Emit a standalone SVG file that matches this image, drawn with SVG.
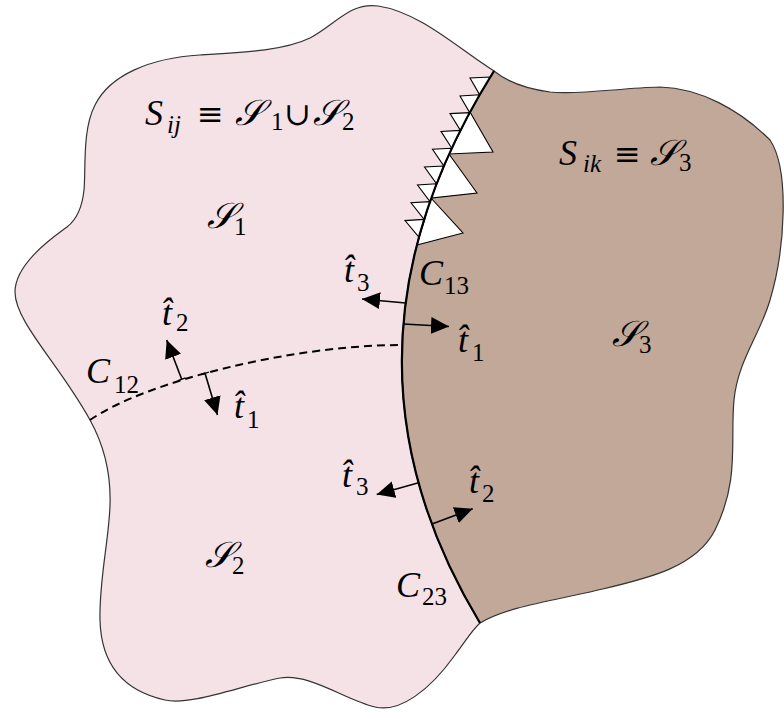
<svg xmlns="http://www.w3.org/2000/svg" width="784" height="712" viewBox="0 0 784 712">
<style>
.outline{stroke:#333;stroke-width:1.2;stroke-linejoin:round}
.pink{fill:#F5E2E7}
.brown{fill:#C2A898}
.iface{fill:none;stroke:#000;stroke-width:2.2}
.tooth{fill:#fff;stroke:#000;stroke-width:1.1;stroke-linejoin:miter}
.dash{fill:none;stroke:#000;stroke-width:2;stroke-dasharray:8 5}
.arr{fill:none;stroke:#000;stroke-width:1.6;marker-end:url(#ah)}
.tick{stroke:#000;stroke-width:1.4}
text{font-family:"Liberation Serif","DejaVu Serif",serif;fill:#000}
.m{font-size:36px;font-style:italic}
.s{font-size:25px;font-style:normal}
.si{font-size:25px;font-style:italic}
.op{font-family:"DejaVu Serif",serif;font-style:normal;font-size:32px}
</style>
<defs>
<marker id="ah" markerUnits="userSpaceOnUse" viewBox="0 0 18 17" markerWidth="18" markerHeight="17" refX="18" refY="8.5" orient="auto">
<path d="M0,0 L18,8.5 L0,17 Z" fill="#000"/>
</marker>
</defs>
<g id="region-s12">
<path class="pink outline" d="M494,71 C460,50 420,12 378,6 C350,2 335,25 310,38 C285,50 250,52 200,55 C150,58 110,75 95,105 C82,130 86,170 84,190 C82,210 76,220 67,227 C58,234 15,262 15,292 C15,322 60,365 90,420 C105,447 111,475 110,505 C109,540 99,580 100,620 C101,660 120,690 165,700 C190,706 240,686 280,678 C310,673 345,700 375,707 C400,713 430,690 455,655 C465,642 472,630 480,623 Q317,353 494,71 Z"/>
</g>
<g id="region-s3">
<path class="brown outline" d="M494,71 C505,80 520,88 550,92 C580,95 620,88 660,87 C700,88 740,110 770,140 C790,170 785,250 770,300 C760,335 738,360 734,400 C730,440 740,480 715,530 C695,570 640,580 590,592 C545,602 505,608 480,623 Q317,353 494,71 Z"/>
</g>
<g id="sawtooth">
<path class="tooth" d="M470,112 L493,152 L449,154 Z"/>
<path class="tooth" d="M449,154 L477,193 L431,198 Z"/>
<path class="tooth" d="M431,198 L463,233 L417,245 Z"/>
<path class="tooth" d="M490.3,77 L470,78 L479.7,94.8 Z"/>
<path class="tooth" d="M479.7,94.8 L460,96 L469.7,112.6 Z"/>
<path class="tooth" d="M469.7,112.6 L450,113.6 L460.4,130.4 Z"/>
<path class="tooth" d="M460.4,130.4 L441,131.4 L451.8,148.2 Z"/>
<path class="tooth" d="M451.8,148.2 L432.5,149.2 L443.9,166 Z"/>
<path class="tooth" d="M443.9,166 L424.5,167 L436.6,183.8 Z"/>
<path class="tooth" d="M436.6,183.8 L417.5,185 L430,201.6 Z"/>
<path class="tooth" d="M430,201.6 L411,202.8 L424.1,219.4 Z"/>
<path class="tooth" d="M424.1,219.4 L405,220.6 L418.9,237.2 Z"/>
</g>
<g id="connectors">
<path class="iface" d="M494,71 Q317,353 480,623"/>
<path class="dash" d="M90,420 C145,382 290,345 403,345"/>
<line class="tick" x1="178" y1="380.7" x2="185.4" y2="377.9"/>
<line class="tick" x1="201.1" y1="374.4" x2="208.9" y2="372.2"/>
<line class="arr" x1="181.7" y1="379.3" x2="166.7" y2="340"/>
<line class="arr" x1="205" y1="373.3" x2="217.5" y2="415"/>
<line class="arr" x1="405.5" y1="303" x2="362" y2="299"/>
<line class="arr" x1="403.5" y1="324" x2="449" y2="326.5"/>
<line class="arr" x1="418.6" y1="482.7" x2="376.7" y2="494.5"/>
<line class="arr" x1="432" y1="524" x2="472.7" y2="508.8"/>
</g>
<g id="labels">
<text class="m" y="125"><tspan x="145">S</tspan><tspan class="si" x="167" y="133">ij</tspan><tspan class="op" x="197" y="125">≡</tspan><tspan x="235">𝒮</tspan><tspan class="s" x="271" y="130">1</tspan><tspan class="op" x="284" y="125">∪</tspan><tspan x="313">𝒮</tspan><tspan class="s" x="342" y="130">2</tspan></text>
<text class="m" y="165"><tspan x="559">S</tspan><tspan class="si" x="583" y="172">ik</tspan><tspan class="op" x="614" y="165">≡</tspan><tspan x="650">𝒮</tspan><tspan class="s" x="679" y="171">3</tspan></text>
<text class="m" y="228"><tspan x="207">𝒮</tspan><tspan class="s" x="234" y="235">1</tspan></text>
<text class="m" y="567"><tspan x="205">𝒮</tspan><tspan class="s" x="232" y="574">2</tspan></text>
<text class="m" y="346"><tspan x="612">𝒮</tspan><tspan class="s" x="639" y="353">3</tspan></text>
<text class="m" y="285"><tspan x="419">C</tspan><tspan class="s" x="444" y="294">13</tspan></text>
<text class="m" y="383"><tspan x="86">C</tspan><tspan class="s" x="114" y="393">12</tspan></text>
<text class="m" y="597"><tspan x="396">C</tspan><tspan class="s" x="422" y="605">23</tspan></text>
<text class="m" y="282"><tspan x="344">t̂</tspan><tspan class="s" x="357" y="291">3</tspan></text>
<text class="m" y="352"><tspan x="458">t̂</tspan><tspan class="s" x="472" y="361">1</tspan></text>
<text class="m" y="325"><tspan x="162">t̂</tspan><tspan class="s" x="176" y="331">2</tspan></text>
<text class="m" y="418"><tspan x="234">t̂</tspan><tspan class="s" x="247" y="428">1</tspan></text>
<text class="m" y="487"><tspan x="342">t̂</tspan><tspan class="s" x="356" y="495">3</tspan></text>
<text class="m" y="493"><tspan x="469">t̂</tspan><tspan class="s" x="482" y="502">2</tspan></text>
</g>
</svg>
